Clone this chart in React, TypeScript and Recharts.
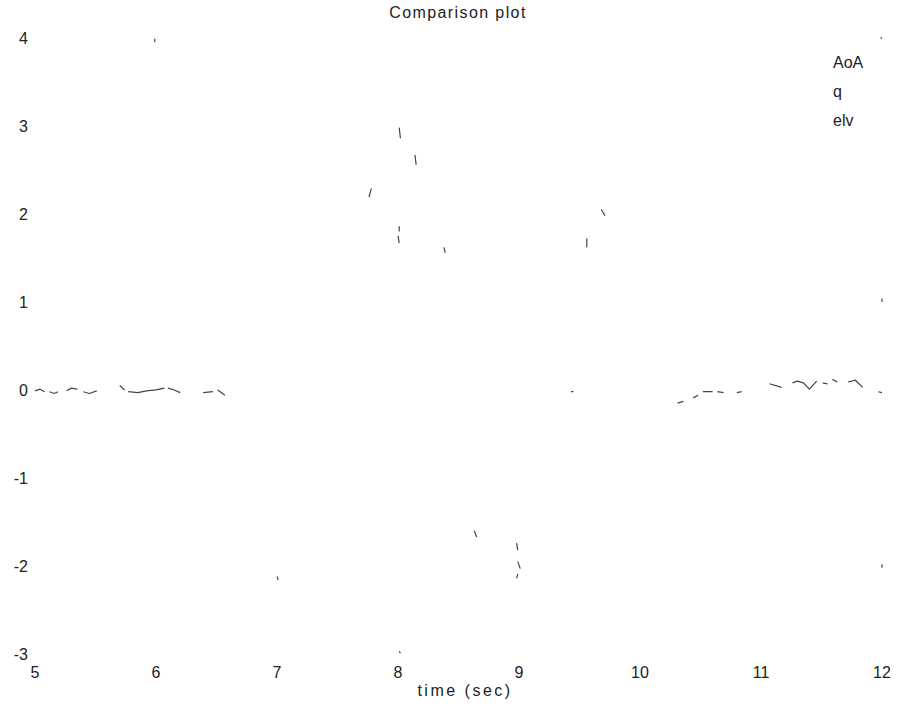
import { LineChart, Line, XAxis, YAxis } from "recharts";

// time ticks and value ticks as printed on the axes
const timeTicks = [5, 6, 7, 8, 9, 10, 11, 12];
const valueTicks = [-3, -2, -1, 0, 1, 2, 3, 4];
const seriesNames = ["AoA", "q", "elv"];

// only fragments of the traces survived in the scan, null = gap
const aoaTime = [
  5.0, 5.04, 5.08, 5.1,
  5.12, 5.16, 5.19, 5.22,
  5.26, 5.3, 5.35, 5.37,
  5.4, 5.45, 5.51, 5.6,
  5.7, 5.74, 5.75,
  5.77, 5.85, 5.92, 6.0, 6.07, 6.08,
  6.1, 6.15, 6.2, 6.3,
  6.39, 6.47, 6.49,
  6.51, 6.57, 7.0,
  9.43, 9.45, 10.0,
  10.31, 10.36, 10.4,
  10.44, 10.48, 10.5,
  10.52, 10.6, 10.62,
  10.64, 10.69, 10.75,
  10.8, 10.84, 11.0,
  11.07, 11.17, 11.2,
  11.26, 11.3, 11.35, 11.4, 11.46, 11.48,
  11.51, 11.55, 11.57,
  11.59, 11.63, 11.68,
  11.72, 11.78, 11.84, 11.9,
  11.97, 12.0,
];
const aoaValue = [
  -0.01, 0.01, -0.02, null,
  -0.02, -0.04, -0.02, null,
  -0.01, 0.02, 0.01, null,
  -0.02, -0.04, -0.01, null,
  0.05, 0.0, null,
  -0.02, -0.03, -0.01, 0.0, 0.02, null,
  0.02, 0.0, -0.03, null,
  -0.03, -0.02, null,
  0.0, -0.06, null,
  -0.02, -0.02, null,
  -0.15, -0.13, null,
  -0.09, -0.06, null,
  -0.02, -0.02, null,
  -0.02, -0.03, null,
  -0.03, -0.02, null,
  0.07, 0.03, null,
  0.08, 0.1, 0.08, 0.01, 0.1, null,
  0.08, 0.07, null,
  0.12, 0.09, null,
  0.09, 0.11, 0.03, null,
  -0.02, -0.03,
];

const qTime = [
  5.99, 5.99, 6.5,
  7.76, 7.78, 7.9,
  8.01, 8.02, 8.1,
  8.14, 8.15, 8.3,
  8.01, 8.01, 8.01,
  8.0, 8.01, 8.2,
  8.38, 8.39, 9.0,
  9.56, 9.56, 9.6,
  9.68, 9.71, 11.0,
  11.99, 12.0, 12.0,
  12.0, 12.0,
];
const qValue = [
  3.99, 3.95, null,
  2.19, 2.29, null,
  2.98, 2.86, null,
  2.67, 2.56, null,
  1.86, 1.8, null,
  1.75, 1.67, null,
  1.62, 1.56, null,
  1.72, 1.62, null,
  2.05, 1.98, null,
  4.01, 3.99, null,
  1.04, 1.0,
];

const elvTime = [
  7.0, 7.01, 7.5,
  8.01, 8.02, 8.3,
  8.63, 8.65, 8.8,
  8.98, 8.99, 8.99,
  8.99, 9.01, 9.0,
  8.99, 8.98, 10.0,
  12.0, 12.0,
];
const elvValue = [
  -2.12, -2.16, null,
  -2.97, -2.99, null,
  -1.6, -1.67, null,
  -1.74, -1.82, null,
  -1.95, -2.03, null,
  -2.09, -2.14, null,
  -1.98, -2.02,
];

const toRows = (time: number[], value: (number | null)[]) =>
  time.map((t, i) => ({ t, v: value[i] }));

const aoaData = toRows(aoaTime, aoaValue);
const qData = toRows(qTime, qValue);
const elvData = toRows(elvTime, elvValue);

const font = "'Liberation Sans', Arial, Helvetica, sans-serif";
const ink = "#222";
const trace = "#444";

export default function App() {
  return (
    <div style={{ position: "absolute", left: 0, top: 0, width: 897, height: 709, background: "#fff" }}>
      <div
        style={{
          position: "absolute",
          top: 4,
          left: 0,
          width: 916,
          textAlign: "center",
          fontFamily: font,
          fontSize: 16,
          letterSpacing: 1.4,
          color: ink,
        }}
      >
        Comparison plot
      </div>
      <div
        style={{
          position: "absolute",
          top: 48,
          left: 833,
          fontFamily: font,
          fontSize: 16,
          lineHeight: "29px",
          color: ink,
        }}
      >
        {seriesNames.map((n) => (
          <div key={n}>{n}</div>
        ))}
      </div>
      <LineChart width={897} height={709} margin={{ top: 37, right: 15, bottom: 0, left: 0 }}>
        <XAxis
          type="number"
          dataKey="t"
          domain={[5, 12]}
          ticks={timeTicks}
          axisLine={false}
          tickLine={false}
          tickSize={6}
          tickMargin={7}
          height={55}
          allowDuplicatedCategory={false}
          tick={{ fill: ink, fontSize: 16, fontFamily: font }}
          interval={0}
        />
        <YAxis
          type="number"
          domain={[-3, 4]}
          ticks={valueTicks}
          axisLine={false}
          tickLine={false}
          tickSize={5}
          tickMargin={2}
          width={35}
          tick={{ fill: ink, fontSize: 16, fontFamily: font }}
          interval={0}
        />
        <Line data={aoaData} dataKey="v" name="AoA" stroke={trace} strokeWidth={1.2} dot={false} connectNulls={false} isAnimationActive={false} />
        <Line data={qData} dataKey="v" name="q" stroke={trace} strokeWidth={1.2} dot={false} connectNulls={false} isAnimationActive={false} />
        <Line data={elvData} dataKey="v" name="elv" stroke={trace} strokeWidth={1.2} dot={false} connectNulls={false} isAnimationActive={false} />
      </LineChart>
      <div
        style={{
          position: "absolute",
          top: 682,
          left: 0,
          width: 930,
          textAlign: "center",
          fontFamily: font,
          fontSize: 16,
          letterSpacing: 2.5,
          color: ink,
        }}
      >
        time (sec)
      </div>
    </div>
  );
}
